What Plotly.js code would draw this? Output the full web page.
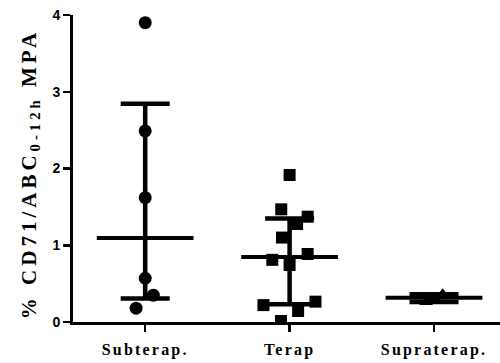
<!DOCTYPE html>
<html>
<head>
<meta charset="utf-8">
<script src="https://cdn.plot.ly/plotly-3.0.1.min.js"></script>
<style>
  html, body { margin: 0; padding: 0; background: #fff; }
  #chart { width: 500px; height: 363px; }
  .xtick text { letter-spacing: 2.2px; }
  .ytick text { font-weight: bold !important; }
  .annotation-text { letter-spacing: 4px; }
</style>
</head>
<body>
<div id="chart"></div>
<script>
// Group names shown on the x axis
const groups = ['Subterap.', 'Terap', 'Supraterap.'];
const yTitle = '% CD71/ABC<sub>0-12h</sub> MPA';

// % CD71/ABC0-12h MPA per patient, by group
const subterap = [3.90, 2.49, 1.62, 0.57, 0.35, 0.18];
const terap = [1.915, 1.468, 1.372, 1.277, 1.10, 0.886, 0.81, 0.743, 0.265, 0.22, 0.143, 0.013];
const supraterap = [0.36, 0.317, 0.26];

// Horizontal spread of overlapping dots (category units)
const subterapSpread = [0, 0, 0, 0, 0.056, -0.063];
const terapSpread = [0, -0.058, 0.125, 0.052, -0.053, 0.125, -0.12, 0, 0.179, -0.181, 0.059, -0.06];
const supraSpread = [0.06, 0, -0.055];

const symbols = ['circle', 'square', 'triangle-up'];
const sizes = [13, 12, 12];

// Quantile with (n+1)p positioning, clamped to the extremes
function quantile(values, p) {
  const s = values.slice().sort((a, b) => a - b);
  const n = s.length;
  const pos = (n + 1) * p;
  if (pos <= 1) return s[0];
  if (pos >= n) return s[n - 1];
  const lo = Math.floor(pos);
  const f = pos - lo;
  return s[lo - 1] + f * (s[lo] - s[lo - 1]);
}

const series = [subterap, terap, supraterap];
const spreads = [subterapSpread, terapSpread, supraSpread];
const traces = [];

// Median line with interquartile range bars
series.forEach((vals, i) => {
  const med = quantile(vals, 0.5);
  const q1 = quantile(vals, 0.25);
  const q3 = quantile(vals, 0.75);
  traces.push({
    type: 'scatter', mode: 'markers',
    x: [i], y: [med],
    marker: { size: 1, color: 'rgba(0,0,0,0)' },
    error_y: { type: 'data', symmetric: false, array: [q3 - med], arrayminus: [med - q1],
               width: 24.5, thickness: 4.5, color: '#000' },
    error_x: { type: 'constant', value: 0.335, width: 0, thickness: 4, color: '#000' },
    hoverinfo: 'skip', showlegend: false
  });
});

// Individual values
series.forEach((vals, i) => {
  traces.push({
    type: 'scatter', mode: 'markers',
    x: vals.map((v, k) => i + spreads[i][k]),
    y: vals,
    marker: { symbol: symbols[i], size: sizes[i], color: '#000', line: { width: 0 } },
    name: groups[i], showlegend: false
  });
});

const layout = {
  width: 500, height: 363,
  margin: { l: 73, r: 0, t: 15, b: 41 },
  paper_bgcolor: '#fff', plot_bgcolor: '#fff',
  showlegend: false,
  xaxis: {
    range: [-0.5, 2.457],
    tickmode: 'array', tickvals: [0, 1, 2], ticktext: groups,
    showgrid: false, zeroline: false,
    showline: true, linecolor: '#000', linewidth: 3,
    ticks: 'outside', ticklen: 7, tickwidth: 2.5, tickcolor: '#000',
    ticklabelstandoff: 4,
    tickfont: { family: 'Liberation Serif, Times New Roman, serif', size: 16, color: '#000', weight: 700 },
    fixedrange: true
  },
  yaxis: {
    range: [0, 4], dtick: 1,
    showgrid: false, zeroline: false,
    showline: true, linecolor: '#000', linewidth: 3,
    ticks: 'outside', ticklen: 7, tickwidth: 2.5, tickcolor: '#000',
    tickfont: { family: 'Liberation Sans, Arial, sans-serif', size: 14, color: '#000', weight: 700 },
    fixedrange: true
  },
  // Rotated y-axis title
  annotations: [{
    text: yTitle,
    xref: 'paper', yref: 'paper',
    x: -0.102, y: 0.483,
    xanchor: 'center', yanchor: 'middle',
    textangle: -90, showarrow: false,
    font: { family: 'Liberation Serif, Times New Roman, serif', size: 21, color: '#000', weight: 700 }
  }]
};

Plotly.newPlot('chart', traces, layout, { staticPlot: true, displayModeBar: false });
</script>
</body>
</html>
